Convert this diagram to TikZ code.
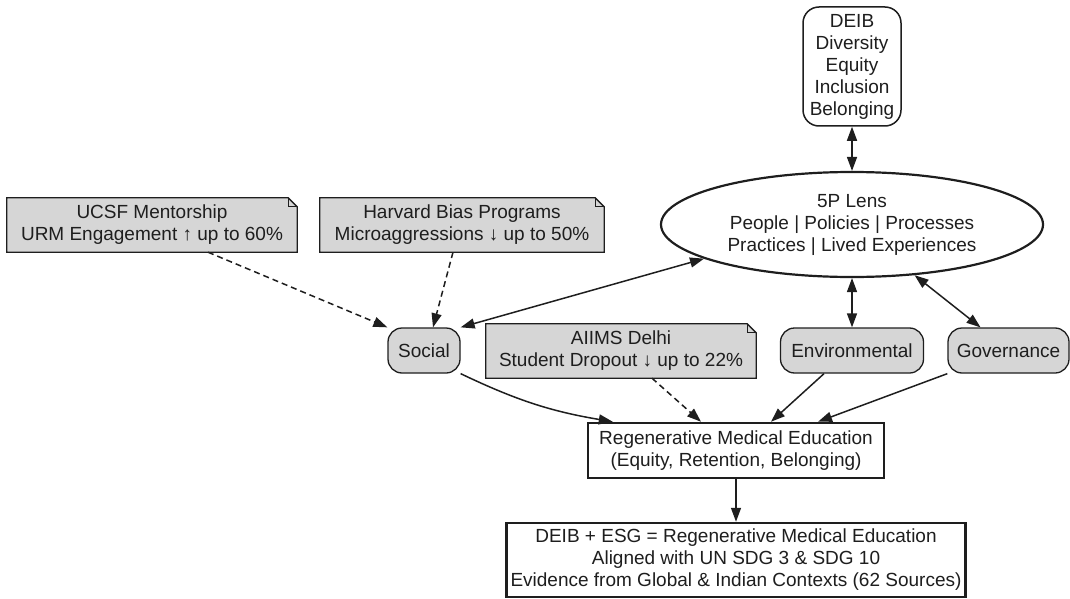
\documentclass[tikz,border=0pt]{standalone}
\usepackage{fontspec}
\setmainfont{Liberation Sans}
\usetikzlibrary{shapes.geometric,arrows.meta,backgrounds}
\definecolor{notefill}{RGB}{214,214,214}
\definecolor{ink}{RGB}{30,30,30}
\tikzset{
  base/.style={font=\fontsize{19}{22}\selectfont, text=ink, align=center, inner sep=0pt},
  rbox/.style={base, draw=ink, line width=1.3pt, rounded corners=14pt, fill=notefill},
  deibbox/.style={base, draw=ink, line width=1.5pt, rounded corners=16pt, fill=white},
  notebox/.style={base},
  mainbox/.style={base, draw=ink, line width=2.5pt, fill=white},
  lensnode/.style={base, ellipse, draw=ink, line width=2.2pt},
  tip/.tip={Triangle[length=14pt,width=10pt]},
  conn/.style={draw=ink, line width=1.5pt, -tip},
  biconn/.style={draw=ink, line width=1.5pt, tip-tip},
  dconn/.style={conn, dash pattern=on 6pt off 4pt},
  notebg/.style={draw=ink, line width=1.3pt, fill=notefill},
}
\newcommand\notedraw[1]{%
  \begin{scope}[on background layer]
    \draw[notebg] (#1.south west) -- (#1.north west) -- ([xshift=-9pt]#1.north east)
      -- ([yshift=-9pt]#1.north east) -- (#1.south east) -- cycle;
    \draw[draw=ink, line width=0.8pt] ([xshift=-9pt]#1.north east)
      -- ([xshift=-9pt,yshift=-9pt]#1.north east) -- ([yshift=-9pt]#1.north east);
  \end{scope}}
\begin{document}
\begin{tikzpicture}[x=1pt,y=-1pt]
\useasboundingbox (0,0) rectangle (1070,599);

\node[deibbox, minimum width=98pt, minimum height=119pt] (deib) at (852,66.5)
  {DEIB\\Diversity\\Equity\\Inclusion\\Belonging};
\node[lensnode, minimum width=382pt, minimum height=105pt] (lens) at (852,224.5)
  {5P Lens\\People | Policies | Processes\\Practices | Lived Experiences};

\node[notebox, minimum width=290pt, minimum height=54pt] (ucsf) at (152,225)
  {UCSF Mentorship\\URM Engagement ↑ up to 60\%};
\node[notebox, minimum width=284pt, minimum height=54pt] (harv) at (462,225)
  {Harvard Bias Programs\\Microaggressions ↓ up to 50\%};
\node[notebox, minimum width=270pt, minimum height=54pt] (aiims) at (621,351)
  {AIIMS Delhi\\Student Dropout ↓ up to 22\%};
\notedraw{ucsf}
\notedraw{harv}
\notedraw{aiims}

\node[rbox, minimum width=72pt, minimum height=45pt] (social) at (424,350.5) {Social};
\node[rbox, minimum width=143pt, minimum height=45pt] (env) at (852,350.5) {Environmental};
\node[rbox, minimum width=121pt, minimum height=45pt] (gov) at (1008.5,350.5) {Governance};

\node[mainbox, minimum width=296pt, minimum height=55pt] (regen) at (736,450.5)
  {Regenerative Medical Education\\(Equity, Retention, Belonging)};
\node[mainbox, minimum width=459pt, minimum height=74pt] (bottom) at (736,560)
  {DEIB + ESG = Regenerative Medical Education\\Aligned with UN SDG 3 \& SDG 10\\Evidence from Global \& Indian Contexts (62 Sources)};

\draw[dconn] ([xshift=56pt]ucsf.south) -- (social.north west);
\draw[dconn] ([xshift=-9pt]harv.south) -- ([xshift=9pt]social.north);
\draw[biconn] (lens.193) -- (social.north east);
\draw[biconn] (deib.south) -- (lens.north);
\draw[biconn] (lens.south) -- (env.north);
\draw[biconn] (lens.321) -- ([xshift=-28pt]gov.north);
\draw[conn] (social.south east) to[bend right=8] ([xshift=26pt]regen.north west);
\draw[dconn] ([xshift=31pt]aiims.south) -- ([xshift=-35pt]regen.north);
\draw[conn] ([xshift=-28pt]env.south) -- ([xshift=35pt]regen.north);
\draw[conn] (gov.south west) -- ([xshift=82pt]regen.north);
\draw[conn] (regen.south) -- (bottom.north);
\end{tikzpicture}
\end{document}
